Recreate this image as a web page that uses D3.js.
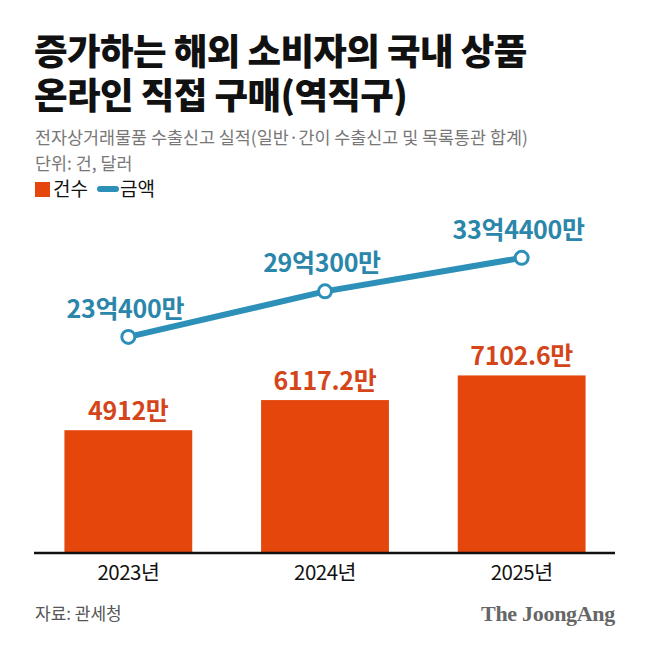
<!DOCTYPE html>
<html>
<head>
<meta charset="utf-8">
<script src="https://cdn.jsdelivr.net/npm/d3@7"></script>
<style>
  body { margin: 0; background: #fff; }
  svg { display: block; font-family: "Noto Sans CJK KR", "Noto Sans", sans-serif; }
</style>
</head>
<body>
<svg id="chart" width="650" height="650"></svg>
<script>
// 데이터
var years = ['2023년', '2024년', '2025년'];
var counts = [4912, 6117.2, 7102.6];        // 건수 (만 건)
var amounts = [23.04, 29.03, 33.44];        // 금액 (억 달러)
var titleLines = ['증가하는 해외 소비자의 국내 상품', '온라인 직접 구매(역직구)'];

var svg = d3.select('#chart');

// 제목 (두 줄)
svg.append('text')
  .attr('font-size', 36.5).attr('font-weight', 900).attr('fill', '#111')
  .attr('letter-spacing', -0.6)
  .selectAll('tspan')
  .data(titleLines)
  .enter().append('tspan')
  .attr('x', 34)
  .attr('y', function(d, i) { return 65 + i * 44; })
  .text(function(d) { return d; });

// 부제
svg.append('text').attr('x', 35).attr('y', 144)
  .attr('font-size', 17.4).attr('fill', '#777')
  .text('전자상거래물품 수출신고 실적(일반·간이 수출신고 및 목록통관 합계)');
svg.append('text').attr('x', 35).attr('y', 170)
  .attr('font-size', 17.4).attr('fill', '#777')
  .text('단위: 건, 달러');

// 범례
svg.append('rect').attr('x', 35).attr('y', 182).attr('width', 15).attr('height', 15)
  .attr('fill', '#E4460C');
svg.append('text').attr('x', 53).attr('y', 196).attr('font-size', 19).attr('fill', '#111').text('건수');
svg.append('line').attr('x1', 100).attr('x2', 116).attr('y1', 189).attr('y2', 189)
  .attr('stroke', '#2C90B8').attr('stroke-width', 6).attr('stroke-linecap', 'round');
svg.append('text').attr('x', 120).attr('y', 196).attr('font-size', 19).attr('fill', '#111').text('금액');

// 스케일
var x = d3.scaleBand()
  .domain(years)
  .range([30, 620])
  .paddingInner(0.35)
  .paddingOuter(0.175);

var y = d3.scaleLinear()
  .domain([0, 8000])
  .range([553, 353]);

var y2 = d3.scaleLinear()
  .domain([20, 35])
  .range([360, 246]);

// 막대
var g = svg.append('g');
g.selectAll('.bar')
  .data(counts)
  .enter().append('rect')
  .attr('class', 'bar')
  .attr('x', function(d, i) { return x(years[i]); })
  .attr('y', function(d) { return y(d); })
  .attr('width', x.bandwidth())
  .attr('height', function(d) { return y(0) - y(d); })
  .attr('fill', '#E4460C');

g.selectAll('.bar-label')
  .data(counts)
  .enter().append('text')
  .attr('class', 'bar-label')
  .attr('x', function(d, i) { return x(years[i]) + x.bandwidth() / 2; })
  .attr('y', function(d) { return y(d) - 10; })
  .attr('text-anchor', 'middle')
  .attr('font-size', 25).attr('font-weight', 700)
  .attr('letter-spacing', -0.3)
  .attr('fill', '#D4461A')
  .text(function(d) { return d + '만'; });

// x축
var xAxis = d3.axisBottom(x).tickSize(0).tickPadding(12);
var axisG = svg.append('g')
  .attr('transform', 'translate(0,553)')
  .call(xAxis);
axisG.select('.domain').remove();
axisG.selectAll('.tick text')
  .attr('font-family', '"Noto Sans CJK KR", sans-serif')
  .attr('font-size', 20.5).attr('fill', '#111')
  .attr('letter-spacing', -0.5);
svg.append('line')
  .attr('x1', 34).attr('x2', 615).attr('y1', 553).attr('y2', 553)
  .attr('stroke', '#111').attr('stroke-width', 2.5);

// 금액 선
var line = d3.line()
  .x(function(d, i) { return x(years[i]) + x.bandwidth() / 2; })
  .y(function(d) { return y2(d); });

svg.append('path')
  .datum(amounts)
  .attr('d', line)
  .attr('fill', 'none')
  .attr('stroke', '#2C90B8')
  .attr('stroke-width', 6);

svg.selectAll('.dot')
  .data(amounts)
  .enter().append('circle')
  .attr('class', 'dot')
  .attr('cx', function(d, i) { return x(years[i]) + x.bandwidth() / 2; })
  .attr('cy', function(d) { return y2(d); })
  .attr('r', 6.5)
  .attr('fill', '#fff')
  .attr('stroke', '#2C90B8')
  .attr('stroke-width', 3);

function fmtAmount(v) {
  var eok = Math.floor(v);
  var man = Math.round((v - eok) * 10000);
  return eok + '억' + man + '만';
}

svg.selectAll('.amt-label')
  .data(amounts)
  .enter().append('text')
  .attr('class', 'amt-label')
  .attr('x', function(d, i) { return x(years[i]) + x.bandwidth() / 2 - 3; })
  .attr('y', function(d) { return y2(d) - 19; })
  .attr('text-anchor', 'middle')
  .attr('font-size', 25).attr('font-weight', 700)
  .attr('letter-spacing', -0.3)
  .attr('fill', '#2A86AA')
  .text(fmtAmount);

// 출처
svg.append('text').attr('x', 35).attr('y', 620)
  .attr('font-size', 17).attr('fill', '#555')
  .text('자료: 관세청');
svg.append('text').attr('x', 615).attr('y', 621)
  .attr('text-anchor', 'end')
  .attr('font-family', '"Liberation Serif", "DejaVu Serif", serif')
  .attr('font-size', 22).attr('font-weight', 700).attr('fill', '#666')
  .attr('letter-spacing', -0.3)
  .text('The JoongAng');
</script>
</body>
</html>
